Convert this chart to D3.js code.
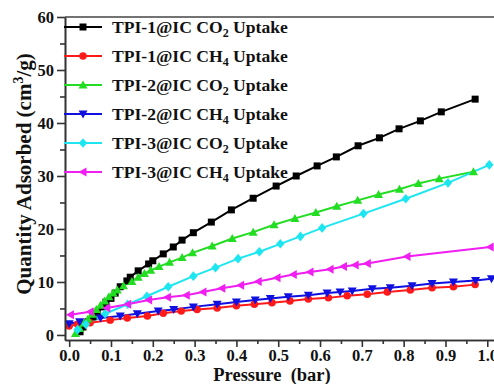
<!DOCTYPE html>
<html>
<head>
<meta charset="utf-8">
<script src="https://cdn.jsdelivr.net/npm/d3@7"></script>
<style>
  body { margin: 0; background: #fff; }
  text { font-family: "Liberation Serif", "Times New Roman", serif; font-weight: bold; fill: #111; }
</style>
</head>
<body>
<div id="main"></div>
<script>
// pressure (bar) / uptake (cm3/g)
const tpi1CO2P = [0.026, 0.033, 0.045, 0.057, 0.067, 0.08, 0.088, 0.1, 0.11, 0.122, 0.138, 0.146, 0.165, 0.19, 0.2, 0.225, 0.249, 0.27, 0.297, 0.34, 0.388, 0.44, 0.495, 0.543, 0.593, 0.639, 0.691, 0.742, 0.789, 0.84, 0.89, 0.971];
const tpi1CO2V = [0.6, 1.5, 2.5, 3.4, 4.3, 5.3, 6.2, 6.9, 7.9, 9.1, 10.2, 10.9, 12.1, 13.4, 14.0, 15.3, 16.6, 17.9, 19.3, 21.3, 23.6, 25.8, 28.1, 30.0, 31.9, 33.6, 35.7, 37.2, 38.9, 40.4, 42.1, 44.5];

const tpi1CH4P = [0.0, 0.02, 0.05, 0.098, 0.139, 0.187, 0.225, 0.268, 0.306, 0.354, 0.4, 0.443, 0.485, 0.528, 0.572, 0.62, 0.665, 0.713, 0.761, 0.816, 0.868, 0.919, 0.971];
const tpi1CH4V = [1.7, 2.0, 2.3, 2.8, 3.2, 3.6, 4.1, 4.5, 4.8, 5.1, 5.5, 5.8, 6.1, 6.4, 6.8, 7.0, 7.4, 7.7, 8.1, 8.5, 8.9, 9.1, 9.5];

const tpi2CO2P = [0.015, 0.025, 0.035, 0.045, 0.055, 0.065, 0.075, 0.085, 0.095, 0.105, 0.115, 0.13, 0.15, 0.165, 0.18, 0.195, 0.215, 0.24, 0.27, 0.295, 0.342, 0.39, 0.44, 0.49, 0.54, 0.59, 0.64, 0.69, 0.74, 0.79, 0.835, 0.885, 0.967];
const tpi2CO2V = [0.3, 1.2, 2.2, 3.0, 3.9, 4.8, 5.6, 6.4, 7.2, 7.9, 8.5, 9.3, 10.1, 10.9, 11.6, 12.2, 12.9, 13.7, 14.6, 15.5, 16.8, 18.2, 19.4, 20.8, 22.0, 23.1, 24.3, 25.4, 26.5, 27.5, 28.6, 29.5, 30.8];

const tpi2CH4P = [0.0, 0.025, 0.075, 0.122, 0.163, 0.213, 0.25, 0.297, 0.354, 0.4, 0.445, 0.481, 0.524, 0.572, 0.617, 0.648, 0.677, 0.725, 0.768, 0.82, 0.868, 0.919, 0.972, 1.01];
const tpi2CH4V = [2.1, 2.5, 3.2, 3.6, 4.0, 4.5, 4.8, 5.3, 5.8, 6.2, 6.6, 6.9, 7.2, 7.5, 7.9, 8.1, 8.3, 8.7, 8.9, 9.3, 9.7, 10.0, 10.3, 10.6];

const tpi3CO2P = [0.02, 0.04, 0.086, 0.14, 0.186, 0.237, 0.297, 0.35, 0.404, 0.455, 0.505, 0.553, 0.605, 0.704, 0.805, 0.906, 1.005];
const tpi3CO2V = [1.0, 2.0, 4.0, 5.8, 7.3, 9.1, 11.1, 12.7, 14.4, 15.7, 17.2, 18.6, 20.2, 22.9, 25.7, 28.7, 32.1];

const tpi3CH4P = [0.003, 0.05, 0.09, 0.14, 0.19, 0.235, 0.28, 0.32, 0.365, 0.41, 0.452, 0.497, 0.536, 0.576, 0.624, 0.656, 0.684, 0.713, 0.808, 1.007];
const tpi3CH4V = [3.8, 4.4, 5.1, 5.8, 6.6, 7.1, 7.5, 8.1, 8.8, 9.4, 10.1, 10.8, 11.4, 11.9, 12.4, 12.9, 13.2, 13.5, 14.8, 16.6];

const seriesNames = ['TPI-1@IC CO|2| Uptake', 'TPI-1@IC CH|4| Uptake', 'TPI-2@IC CO|2| Uptake',
                     'TPI-2@IC CH|4| Uptake', 'TPI-3@IC CO|2| Uptake', 'TPI-3@IC CH|4| Uptake'];
const seriesColors = ['#000000', '#ff1a1a', '#22dd22', '#1010e0', '#1ee6f0', '#f01ef0'];
const seriesShapes = ['square', 'circle', 'up', 'down', 'diamond', 'left'];

const xTicks = [0.0, 0.1, 0.2, 0.3, 0.4, 0.5, 0.6, 0.7, 0.8, 0.9, 1.0];
const yTicks = [0, 10, 20, 30, 40, 50, 60];

const series = [
  [tpi1CO2P, tpi1CO2V], [tpi1CH4P, tpi1CH4V], [tpi2CO2P, tpi2CO2V],
  [tpi2CH4P, tpi2CH4V], [tpi3CO2P, tpi3CO2V], [tpi3CH4P, tpi3CH4V]
].map((s, i) => ({
  name: seriesNames[i], color: seriesColors[i], shape: seriesShapes[i],
  values: s[0].map((p, j) => ({p: p, v: s[1][j]}))
}));

const width = 494, height = 384;
const x = d3.scaleLinear().domain([-0.01, 1.04]).range([65, 504]);
const y = d3.scaleLinear().domain([-0.95, 60]).range([340, 17]);

const svg = d3.select('#main')
  .append('svg')
  .attr('width', width)
  .attr('height', height);

// markers
const markerPath = (shape) => {
  if (shape === 'square') return 'M-3.5,-3.5H3.5V3.5H-3.5Z';
  if (shape === 'circle') return d3.symbol(d3.symbolCircle, 44)();
  if (shape === 'up') return 'M0,-4.5L4.5,3.5H-4.5Z';
  if (shape === 'down') return 'M0,4.5L4.5,-3.5H-4.5Z';
  if (shape === 'diamond') return 'M0,-4.8L4.2,0L0,4.8L-4.2,0Z';
  return 'M-4.5,0L3.5,-4.5V4.5Z';
};

const line = d3.line().x(d => x(d.p)).y(d => y(d.v));

const plot = svg.append('g');
series.forEach(s => {
  plot.append('path')
    .attr('d', line(s.values))
    .attr('fill', 'none')
    .attr('stroke', s.color)
    .attr('stroke-width', 2);
});
series.forEach(s => {
  plot.selectAll(null)
    .data(s.values)
    .enter().append('path')
    .attr('transform', d => `translate(${x(d.p)},${y(d.v)})`)
    .attr('d', markerPath(s.shape))
    .attr('fill', s.color);
});

// axes
const xAxis = d3.axisBottom(x)
  .tickValues(xTicks)
  .tickFormat(d3.format('.1f'))
  .tickSizeInner(7).tickSizeOuter(0).tickPadding(2);
const xMinor = d3.axisBottom(x)
  .tickValues(xTicks.map(t => t + 0.05))
  .tickFormat('').tickSizeInner(4).tickSizeOuter(0);
const yAxis = d3.axisLeft(y)
  .tickValues(yTicks)
  .tickSizeInner(8).tickSizeOuter(0).tickPadding(3);
const yMinor = d3.axisLeft(y)
  .tickValues(yTicks.slice(0, -1).map(t => t + 5))
  .tickFormat('').tickSizeInner(5).tickSizeOuter(0);

[[xAxis, 'x'], [xMinor, 'x'], [yAxis, 'y'], [yMinor, 'y']].forEach(([ax, k]) => {
  const g = svg.append('g')
    .attr('transform', k === 'x' ? `translate(0,${y(-0.95)})` : `translate(${x(-0.01)},0)`)
    .call(ax);
  g.selectAll('line, path').attr('stroke', '#333').attr('stroke-width', 1.6);
  g.selectAll('text').style('font-size', '16.5px').attr('fill', '#111');
});

// top frame
svg.append('line')
  .attr('x1', x(-0.01)).attr('x2', width)
  .attr('y1', y(60)).attr('y2', y(60))
  .attr('stroke', '#444').attr('stroke-width', 1.6);

// axis titles
svg.append('text')
  .attr('x', 272).attr('y', 381)
  .attr('text-anchor', 'middle')
  .style('font-size', '18.5px')
  .style('white-space', 'pre')
  .text('Pressure  (bar)');

const yt = svg.append('text')
  .attr('transform', 'translate(31,174) rotate(-90)')
  .attr('text-anchor', 'middle')
  .style('font-size', '21px');
yt.append('tspan').text('Quantity Adsorbed (cm');
yt.append('tspan').attr('dy', -8).style('font-size', '14px').text('3');
yt.append('tspan').attr('dy', 8).text('/g)');

// legend
const legend = svg.append('g');
const item = legend.selectAll('g')
  .data(series)
  .enter().append('g')
  .attr('transform', (d, i) => `translate(0,${27 + i * 29})`);
item.append('line')
  .attr('x1', 64).attr('x2', 102)
  .attr('stroke', d => d.color).attr('stroke-width', 2);
item.append('path')
  .attr('transform', 'translate(83,0)')
  .attr('d', d => markerPath(d.shape))
  .attr('fill', d => d.color);
const label = item.append('text')
  .attr('x', 112).attr('y', 6)
  .style('font-size', '17.6px');
label.each(function(d) {
  const parts = d.name.split('|');
  const t = d3.select(this);
  t.append('tspan').text(parts[0]);
  t.append('tspan').attr('dy', 4).style('font-size', '12px').text(parts[1]);
  t.append('tspan').attr('dy', -4).text(parts[2]);
});
</script>
</body>
</html>
